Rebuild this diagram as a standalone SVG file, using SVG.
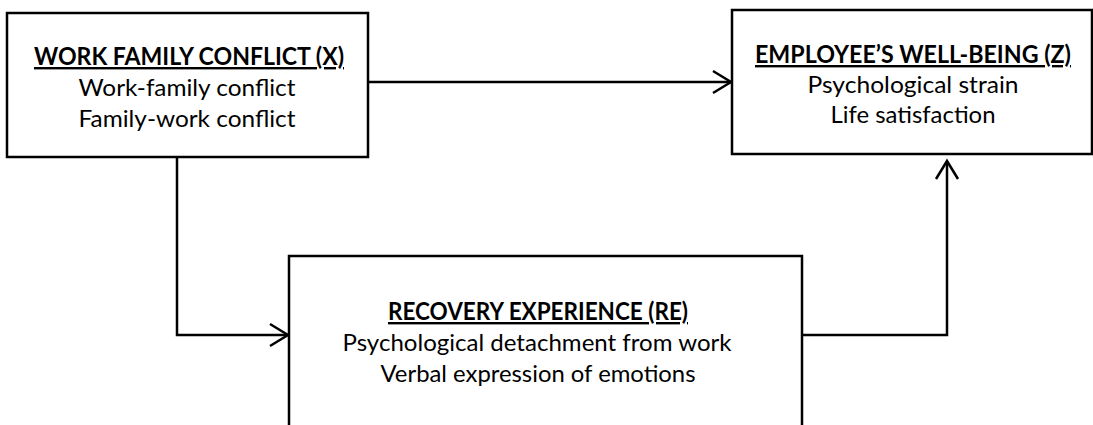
<svg xmlns="http://www.w3.org/2000/svg" width="1093" height="425" viewBox="0 0 1093 425">
<style>
.box{fill:#fff;stroke:#000;stroke-width:2.5}
.t{font-family:Lato,"Liberation Sans",sans-serif;font-size:24px;fill:#000;text-anchor:middle}
.h{font-weight:bold;text-decoration:underline}
.c{fill:none;stroke:#000;stroke-width:2.5}
</style>
<defs>
<marker id="arr" markerUnits="userSpaceOnUse" markerWidth="26" markerHeight="30" viewBox="-22 -15 26 30" refX="0" refY="0" orient="auto" overflow="visible">
<path d="M-18,-11 L0,0 L-18,11" fill="none" stroke="#000" stroke-width="2.5"/>
</marker>
</defs>
<rect width="1093" height="425" fill="#fff"/>
<g id="connectors">
<path class="c" d="M368,82 H731" marker-end="url(#arr)"/>
<path class="c" d="M177,157 V335 H288" marker-end="url(#arr)"/>
<path class="c" d="M802,335 H947 V161" marker-end="url(#arr)"/>
</g>
<g id="work-family-conflict">
<rect class="box" x="7" y="13" width="361" height="144"/>
<text class="t h" x="189" y="65" textLength="310" lengthAdjust="spacingAndGlyphs">WORK FAMILY CONFLICT (X)</text>
<text class="t" x="187" y="96" textLength="217" lengthAdjust="spacingAndGlyphs">Work-family conflict</text>
<text class="t" x="187" y="127" textLength="217" lengthAdjust="spacingAndGlyphs">Family-work conflict</text>
</g>
<g id="employee-well-being">
<rect class="box" x="732" y="10" width="360" height="144"/>
<text class="t h" x="913" y="63" textLength="316" lengthAdjust="spacingAndGlyphs">EMPLOYEE’S WELL-BEING (Z)</text>
<text class="t" x="913" y="93" textLength="211" lengthAdjust="spacingAndGlyphs">Psychological strain</text>
<text class="t" x="913" y="123" textLength="165" lengthAdjust="spacingAndGlyphs">Life satisfaction</text>
</g>
<g id="recovery-experience">
<rect class="box" x="289" y="256" width="513" height="190"/>
<text class="t h" x="538" y="320" textLength="300" lengthAdjust="spacingAndGlyphs">RECOVERY EXPERIENCE (RE)</text>
<text class="t" x="537" y="351" textLength="389" lengthAdjust="spacingAndGlyphs">Psychological detachment from work</text>
<text class="t" x="538" y="382" textLength="315" lengthAdjust="spacingAndGlyphs">Verbal expression of emotions</text>
</g>
</svg>
